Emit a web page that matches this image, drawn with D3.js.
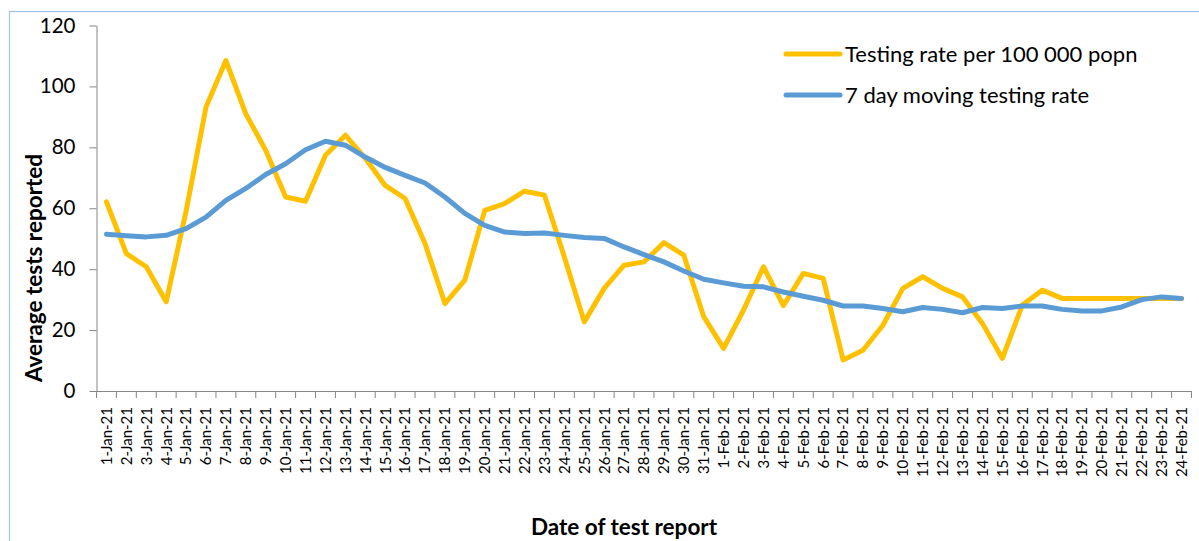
<!DOCTYPE html>
<html>
<head>
<meta charset="utf-8">
<script src="https://cdn.jsdelivr.net/npm/d3@7"></script>
<style>
  body { margin: 0; background: #fff; }
  svg { display: block; font-family: Lato, "Open Sans", sans-serif; }
</style>
</head>
<body>
<div id="chart"></div>
<script>
const dates = [
  "1-Jan-21", "2-Jan-21", "3-Jan-21", "4-Jan-21", "5-Jan-21", "6-Jan-21", "7-Jan-21",
  "8-Jan-21", "9-Jan-21", "10-Jan-21", "11-Jan-21", "12-Jan-21", "13-Jan-21", "14-Jan-21",
  "15-Jan-21", "16-Jan-21", "17-Jan-21", "18-Jan-21", "19-Jan-21", "20-Jan-21", "21-Jan-21",
  "22-Jan-21", "23-Jan-21", "24-Jan-21", "25-Jan-21", "26-Jan-21", "27-Jan-21", "28-Jan-21",
  "29-Jan-21", "30-Jan-21", "31-Jan-21", "1-Feb-21", "2-Feb-21", "3-Feb-21", "4-Feb-21",
  "5-Feb-21", "6-Feb-21", "7-Feb-21", "8-Feb-21", "9-Feb-21", "10-Feb-21", "11-Feb-21",
  "12-Feb-21", "13-Feb-21", "14-Feb-21", "15-Feb-21", "16-Feb-21", "17-Feb-21", "18-Feb-21",
  "19-Feb-21", "20-Feb-21", "21-Feb-21", "22-Feb-21", "23-Feb-21", "24-Feb-21"
];

// daily testing rate per 100 000 population
const testingRate = [
  62.1, 45.1, 40.8, 29.3, 59, 93.2, 108.5, 91, 79, 63.7,
  62.3, 77.4, 84, 76.4, 67.5, 63.2, 48.4, 28.7, 36.4, 59.3,
  61.5, 65.6, 64.3, 44, 22.7, 33.7, 41.3, 42.4, 48.7, 44.6,
  24.4, 14, 26.6, 40.8, 28, 38.6, 37, 10.2, 13.4, 21.6,
  33.7, 37.5, 33.7, 30.9, 22.2, 10.7, 28.2, 33.1, 30.4, 30.4,
  30.4, 30.4, 30.4, 30.4, 30.4
];

// 7 day moving average
const movingRate = [
  51.5, 51, 50.6, 51.1, 53.3, 57.1, 62.6, 66.5, 71.1, 74.6,
  79.2, 82, 80.7, 76.8, 73.4, 70.8, 68.3, 63.7, 58.3, 54.4,
  52.2, 51.7, 51.9, 51.1, 50.4, 50.1, 47.3, 44.8, 42.4, 39.4,
  36.7, 35.5, 34.4, 34.2, 32.5, 31.1, 29.8, 27.9, 27.9, 27.1,
  26, 27.4, 26.8, 25.7, 27.4, 27.1, 27.9, 27.9, 26.8, 26.3,
  26.3, 27.6, 30, 30.9, 30.4
];

const yTicks = [0, 20, 40, 60, 80, 100, 120];

const seriesNames = ["Testing rate per 100 000 popn", "7 day moving testing rate"];
const seriesColors = ["#FFC000", "#5B9BD5"];

const svgWidth = 1199;
const svgHeight = 541;
const margin = { top: 25.5, right: 7.5, bottom: 150, left: 96.5 };

const svg = d3.select("#chart")
  .append("svg")
  .attr("width", svgWidth)
  .attr("height", svgHeight);

// chart area border
svg.append("rect")
  .attr("x", 9.5)
  .attr("y", 11.5)
  .attr("width", svgWidth)
  .attr("height", svgHeight)
  .attr("fill", "none")
  .attr("stroke", "#9DC3E6")
  .attr("stroke-width", 1.2);

const xScale = d3.scaleBand()
  .domain(dates)
  .range([margin.left, svgWidth - margin.right]);

const yScale = d3.scaleLinear()
  .domain([0, 120])
  .range([391, margin.top]);

const xMid = d => xScale(d) + xScale.bandwidth() / 2;

// y axis
const gy = svg.append("g")
  .attr("transform", `translate(${margin.left},0)`)
  .call(d3.axisLeft(yScale).tickValues(yTicks).tickSize(7).tickPadding(14).tickSizeOuter(0));
gy.select(".domain").attr("stroke", "#868686");
gy.selectAll(".tick line").attr("stroke", "#868686");
gy.selectAll(".tick text")
  .attr("font-size", 20.5)
  .attr("fill", "#000")
  .attr("font-family", "Lato");

// x axis: labels at band centres, tick marks at band edges like Excel
const gx = svg.append("g")
  .attr("transform", `translate(0,${yScale(0)})`)
  .call(d3.axisBottom(xScale).tickSize(0).tickSizeOuter(0));
gx.select(".domain").attr("stroke", "#868686");
gx.selectAll(".tick text")
  .attr("transform", "rotate(-90)")
  .attr("x", -16)
  .attr("y", 0)
  .attr("dy", "0.36em")
  .attr("text-anchor", "end")
  .attr("font-size", 15)
  .attr("fill", "#000")
  .attr("font-family", "Lato");

const edges = dates.map(d => xScale(d)).concat([xScale.range()[1]]);
gx.selectAll(".edge")
  .data(edges)
  .join("line")
  .attr("class", "edge")
  .attr("x1", d => d)
  .attr("x2", d => d)
  .attr("y1", 0)
  .attr("y2", 7)
  .attr("stroke", "#868686");

// axis titles
svg.append("text")
  .attr("transform", "translate(42,268) rotate(-90)")
  .attr("text-anchor", "middle")
  .attr("font-size", 22.5)
  .attr("font-weight", "bold")
  .text("Average tests reported");

svg.append("text")
  .attr("x", 624)
  .attr("y", 535)
  .attr("text-anchor", "middle")
  .attr("font-size", 22.5)
  .attr("font-weight", "bold")
  .text("Date of test report");

// lines
const line = values => d3.line()
  .x((v, i) => xMid(dates[i]))
  .y(v => yScale(v))(values);

[testingRate, movingRate].forEach((values, k) => {
  svg.append("path")
    .attr("d", line(values))
    .attr("fill", "none")
    .attr("stroke", seriesColors[k])
    .attr("stroke-width", 5)
    .attr("stroke-linejoin", "round")
    .attr("stroke-linecap", "round");
});

// legend
const legend = svg.append("g")
  .selectAll("g")
  .data(seriesNames)
  .join("g")
  .attr("transform", (d, i) => `translate(786,${54 + i * 41})`);

legend.append("line")
  .attr("x1", 0)
  .attr("x2", 54)
  .attr("stroke", (d, i) => seriesColors[i])
  .attr("stroke-width", 5)
  .attr("stroke-linecap", "round");

legend.append("text")
  .attr("x", 59)
  .attr("dy", "0.35em")
  .attr("font-size", 22)
  .text(d => d);
</script>
</body>
</html>
